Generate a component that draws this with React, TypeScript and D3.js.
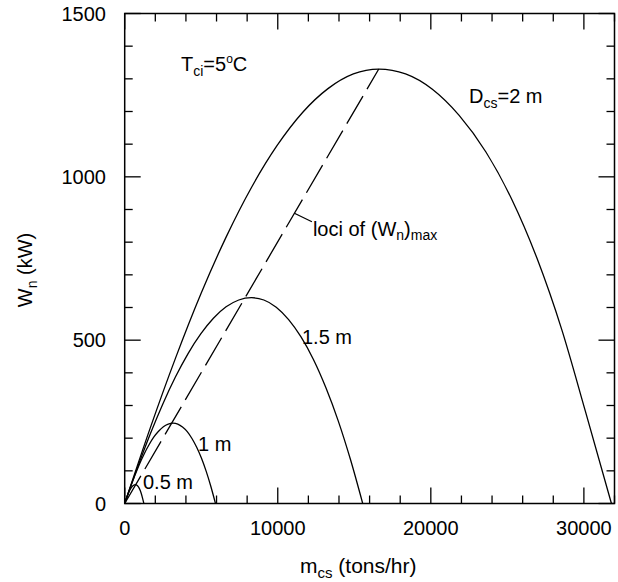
import React from "react";
import * as d3 from "d3";

// m_cs (tons/hr) and W_n (kW)
const d2_m = [0, 1660, 3320, 4980, 6640, 8300, 9960, 11620, 13280, 14940, 16600, 18350, 20100, 21850, 23600, 25300, 26950, 28550, 30100, 31800];
const d2_w = [0, 230, 445, 642, 817, 969, 1096, 1197, 1270, 1315, 1330, 1315, 1268, 1188, 1076, 930, 749, 533, 282, 0];

const d15_m = [0, 828, 1656, 2484, 3312, 4140, 4968, 5796, 6624, 7452, 8280, 9090, 9900, 10710, 11520, 12330, 13140, 13950, 14760, 15550];
const d15_w = [0, 109, 211, 304, 387, 459, 519, 567, 602, 623, 630, 623, 601, 563, 510, 441, 355, 253, 133, 0];

const d1_m = [0, 316, 632, 948, 1264, 1580, 1896, 2212, 2528, 2844, 3160, 3470, 3777, 4086, 4394, 4703, 5011, 5320, 5630, 5930];
const d1_w = [0, 43, 82, 119, 151, 179, 203, 221, 235, 243, 246, 243, 234, 220, 199, 172, 139, 99, 52, 0];

const d05_m = [0, 140, 280, 420, 560, 700, 822, 945, 1067, 1190, 1250];
const d05_w = [0, 19, 36, 48, 55, 58, 55, 47, 33, 12, 0];

const loci_m = [0, 16600];
const loci_w = [0, 1330];

const xTicks = [0, 10000, 20000, 30000];
const xTickLabels = ["0", "10000", "20000", "30000"];
const yTicks = [0, 500, 1000, 1500];
const yTickLabels = ["0", "500", "1000", "1500"];

const W = 618, H = 582;
const L = 124.7, R = 614.5, T = 13.5, B = 503.5;
const FONT = "'Liberation Sans', Arial, Helvetica, sans-serif";

export default function App() {
  const x = d3.scaleLinear().domain([0, 32000]).range([L, R]);
  const y = d3.scaleLinear().domain([0, 1500]).range([B, T]);
  const line = d3
    .line<[number, number]>()
    .x((d) => x(d[0]))
    .y((d) => y(d[1]))
    .curve(d3.curveMonotoneX);
  const zip = (a: number[], b: number[]) => a.map((v, i) => [v, b[i]] as [number, number]);

  const curves = [
    zip(d2_m, d2_w),
    zip(d15_m, d15_w),
    zip(d1_m, d1_w),
    zip(d05_m, d05_w),
  ];

  const xMinor = d3.range(0, 32001, 2000);
  const yMinor = d3.range(0, 1501, 100);
  const ticks: React.ReactNode[] = [];
  xMinor.forEach((v, i) => {
    const len = v % 10000 === 0 ? 16 : 8;
    const px = x(v);
    ticks.push(<line key={"xb" + i} x1={px} x2={px} y1={B} y2={B - len} />);
    ticks.push(<line key={"xt" + i} x1={px} x2={px} y1={T} y2={T + len} />);
  });
  yMinor.forEach((v, i) => {
    const len = v % 500 === 0 ? 16 : 8;
    const py = y(v);
    ticks.push(<line key={"yl" + i} x1={L} x2={L + len} y1={py} y2={py} />);
    ticks.push(<line key={"yr" + i} x1={R} x2={R - len} y1={py} y2={py} />);
  });

  const f = 0.668;
  const leaderX = x(loci_m[1] * f);
  const leaderY = y(loci_w[1] * f);

  return (
    <svg
      width={W}
      height={H}
      style={{ position: "absolute", left: 0, top: 0, background: "#fff" }}
      fontFamily={FONT}
    >
      <rect x={0} y={0} width={W} height={H} fill="#fff" />
      <g stroke="#000" strokeWidth={1.3} fill="none">
        {curves.map((c, i) => (
          <path key={i} d={line(c) || ""} />
        ))}
        <path
          d={d3.line()(zip(loci_m, loci_w).map((d) => [x(d[0]), y(d[1])] as [number, number])) || ""}
          strokeDasharray="32,8"
        />
        <line x1={leaderX} y1={leaderY} x2={leaderX + 17.5} y2={leaderY + 8.5} />
      </g>
      <g stroke="#000" strokeWidth={1.3}>{ticks}</g>
      <rect x={L} y={T} width={R - L} height={B - T} fill="none" stroke="#000" strokeWidth={1.5} />

      <g fontSize={20} fill="#000">
        {xTicks.map((v, i) => (
          <text key={"xl" + i} x={x(v)} y={535} textAnchor="middle">
            {xTickLabels[i]}
          </text>
        ))}
        {yTicks.map((v, i) => (
          <text key={"yl" + i} x={106} y={y(v) + 7} textAnchor="end">
            {yTickLabels[i]}
          </text>
        ))}

        <text x={181} y={71}>
          T<tspan fontSize={14} dy={5}>ci</tspan>
          <tspan dy={-5}>=5</tspan>
          <tspan fontSize={12} dy={-8}>o</tspan>
          <tspan dy={8}>C</tspan>
        </text>
        <text x={469} y={103}>
          D<tspan fontSize={14} dy={5}>cs</tspan>
          <tspan dy={-5}>=2 m</tspan>
        </text>
        <text x={leaderX + 18.5} y={236}>
          loci of (W<tspan fontSize={14} dy={4}>n</tspan>
          <tspan dy={-4}>)</tspan>
          <tspan fontSize={14} dy={4}>max</tspan>
        </text>
        <text x={302} y={344}>1.5 m</text>
        <text x={198} y={451}>1 m</text>
        <text x={143} y={489}>0.5 m</text>

        <text x={300} y={573} fontSize={21}>
          m<tspan fontSize={15} dy={5}>cs</tspan>
          <tspan dy={-5}> (tons/hr)</tspan>
        </text>
        <text transform={`translate(32, 270) rotate(-90)`} textAnchor="middle">
          W<tspan fontSize={14} dy={5}>n</tspan>
          <tspan dy={-5}> (kW)</tspan>
        </text>
      </g>
    </svg>
  );
}
